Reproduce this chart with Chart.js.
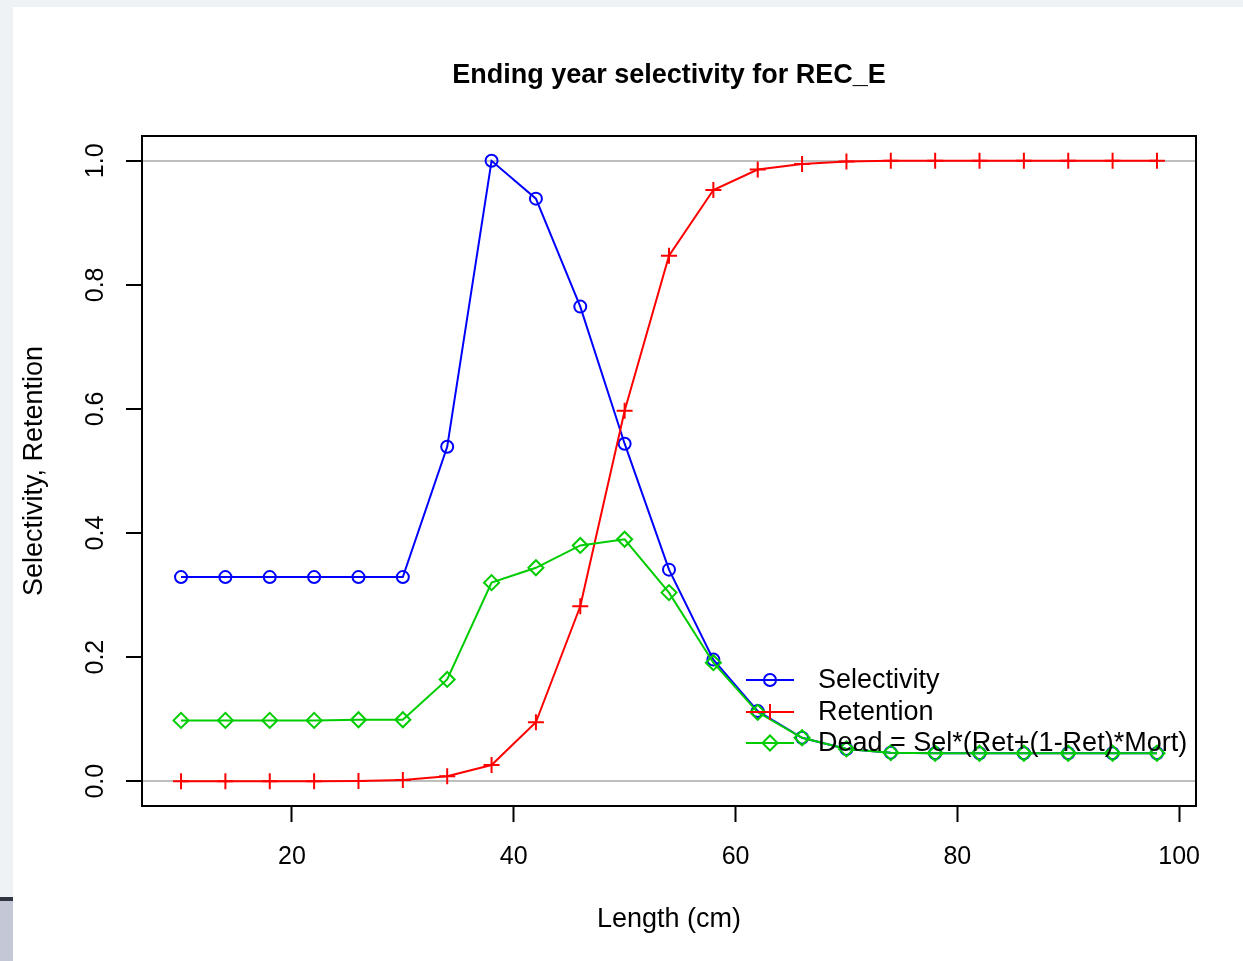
<!DOCTYPE html>
<html>
<head>
<meta charset="utf-8">
<script src="https://cdn.jsdelivr.net/npm/chart.js@4/dist/chart.umd.min.js"></script>
<style>
  html, body { margin: 0; padding: 0; }
  body { width: 1243px; height: 961px; background: #eef2f5; position: relative; overflow: hidden; }
  #paper { position: absolute; left: 13px; top: 7px; right: 0; bottom: 0; background: #ffffff; }
  #edge1 { position: absolute; left: 0; top: 897px; width: 13px; height: 4px; background: #2f3440; }
  #edge2 { position: absolute; left: 0; top: 901px; width: 13px; height: 60px; background: #c3c7d6; }
  #c { position: absolute; left: 0; top: 0; }
</style>
</head>
<body>
<div id="paper"></div>
<div id="edge1"></div>
<div id="edge2"></div>
<canvas id="c" width="1243" height="961"></canvas>
<script>
// ---- data ----
const lengths = [10, 14, 18, 22, 26, 30, 34, 38, 42, 46, 50, 54, 58, 62, 66, 70, 74, 78, 82, 86, 90, 94, 98];
const selectivity = [0.329, 0.329, 0.329, 0.329, 0.329, 0.329, 0.539, 1.0, 0.939, 0.765, 0.544, 0.341, 0.196, 0.113, 0.070, 0.052, 0.046, 0.045, 0.045, 0.045, 0.045, 0.045, 0.045];
const retention = [0.0, 0.0, 0.0, 0.0, 0.0005, 0.002, 0.008, 0.026, 0.095, 0.282, 0.597, 0.847, 0.953, 0.986, 0.995, 0.999, 1.0, 1.0, 1.0, 1.0, 1.0, 1.0, 1.0];
const dead = [0.098, 0.098, 0.098, 0.098, 0.099, 0.099, 0.164, 0.320, 0.344, 0.380, 0.390, 0.304, 0.191, 0.111, 0.070, 0.052, 0.046, 0.045, 0.045, 0.045, 0.045, 0.045, 0.045];
const xTicks = [20, 40, 60, 80, 100];
const yTicks = [0.0, 0.2, 0.4, 0.6, 0.8, 1.0];
const seriesNames = ['Selectivity', 'Retention', 'Dead = Sel*(Ret+(1-Ret)*Mort)'];
const titleText = 'Ending year selectivity for REC_E';
const xTitle = 'Length (cm)';
const yTitle = 'Selectivity, Retention';

const FONT = '"Liberation Sans", Arial, Helvetica, sans-serif';
const BLUE = '#0000ff', RED = '#ff0000', GREEN = '#00cd00';

function pts(vals) { return lengths.map((x, i) => ({ x: x, y: vals[i] })); }

const xMin = 10 - 0.04 * 88, xMax = 98 + 0.04 * 88;
const yMin = -0.04, yMax = 1.04;

const frameAndLabels = {
  id: 'frameAndLabels',
  afterLayout(chart) {
    // centre the main title over the plotting region, as R does
    const t = chart.titleBlock;
    if (t) {
      t.left = chart.chartArea.left;
      t.right = chart.chartArea.right;
      t.width = t.right - t.left;
    }
  },
  afterDatasetsDraw(chart) {
    const ctx = chart.ctx;
    const a = chart.chartArea;
    ctx.save();
    ctx.strokeStyle = '#000';
    ctx.lineWidth = 2;
    ctx.strokeRect(a.left, a.top, a.right - a.left, a.bottom - a.top);
    // y tick labels, rotated like R
    const ys = chart.scales.y;
    ctx.fillStyle = '#000';
    ctx.font = '25px ' + FONT;
    ctx.textAlign = 'center';
    ctx.textBaseline = 'middle';
    yTicks.forEach(v => {
      const py = ys.getPixelForValue(v);
      ctx.save();
      ctx.translate(96, py);
      ctx.rotate(-Math.PI / 2);
      ctx.fillText(v.toFixed(1), 0, 0);
      ctx.restore();
    });
    // legend (no box)
    const rows = [680, 712, 743];
    ctx.font = '27px ' + FONT;
    ctx.textAlign = 'left';
    chart.data.datasets.forEach((ds, i) => {
      const y = rows[i];
      ctx.strokeStyle = ds.borderColor;
      ctx.lineWidth = 2;
      ctx.beginPath();
      ctx.moveTo(746, y);
      ctx.lineTo(794, y);
      ctx.stroke();
      ctx.fillStyle = 'rgba(0,0,0,0)';
      ctx.strokeStyle = ds.borderColor;
      ctx.lineWidth = ds.pointBorderWidth;
      Chart.helpers.drawPoint(ctx, {
        pointStyle: ds.pointStyle,
        radius: ds.pointRadius,
        borderWidth: ds.pointBorderWidth,
        rotation: 0
      }, 770, y);
      ctx.fillStyle = '#000';
      ctx.fillText(ds.label, 818, y + 1);
    });
    ctx.restore();
  }
};

new Chart(document.getElementById('c'), {
  type: 'scatter',
  data: {
    datasets: [
      { label: seriesNames[0], data: pts(selectivity), showLine: true, borderColor: BLUE, borderWidth: 2,
        pointStyle: 'circle', pointRadius: 6, pointBorderWidth: 2, pointBorderColor: BLUE,
        pointBackgroundColor: 'rgba(0,0,0,0)', tension: 0, order: 3 },
      { label: seriesNames[1], data: pts(retention), showLine: true, borderColor: RED, borderWidth: 2,
        pointStyle: 'cross', pointRadius: 8, pointBorderWidth: 2, pointBorderColor: RED,
        pointBackgroundColor: 'rgba(0,0,0,0)', tension: 0, order: 2 },
      { label: seriesNames[2], data: pts(dead), showLine: true, borderColor: GREEN, borderWidth: 2,
        pointStyle: 'rectRot', pointRadius: 7.5, pointBorderWidth: 2, pointBorderColor: GREEN,
        pointBackgroundColor: 'rgba(0,0,0,0)', tension: 0, order: 1 }
    ]
  },
  options: {
    responsive: false,
    animation: false,
    devicePixelRatio: 1,
    layout: { padding: { left: 0, right: 47, top: 0, bottom: 0 } },
    plugins: {
      legend: { display: false },
      tooltip: { enabled: false },
      title: {
        display: true, text: titleText, color: '#000',
        font: { family: FONT, size: 27, weight: 'bold', lineHeight: 1.2 },
        padding: { top: 59.3, bottom: 44.3 }
      }
    },
    scales: {
      x: {
        type: 'linear', min: xMin, max: xMax,
        afterFit(s) { s.height = 155; },
        afterBuildTicks(s) { s.ticks = xTicks.map(v => ({ value: v })); },
        ticks: { color: '#000', font: { family: FONT, size: 25, lineHeight: 1.2 }, padding: 20,
                 maxRotation: 0, minRotation: 0, callback: v => String(v) },
        grid: { display: true, drawOnChartArea: false, drawTicks: true, tickLength: 16,
                tickColor: '#000', tickWidth: 2, color: '#000' },
        border: { display: true, color: '#000', width: 2 },
        title: { display: true, text: xTitle, color: '#000',
                 font: { family: FONT, size: 27, lineHeight: 1.2 }, padding: { top: 0, bottom: 24.8 } }
      },
      y: {
        type: 'linear', min: yMin, max: yMax,
        afterFit(s) { s.width = 142; },
        afterBuildTicks(s) { s.ticks = yTicks.map(v => ({ value: v })); },
        ticks: { display: false },
        grid: { display: true, drawOnChartArea: true, drawTicks: true, tickLength: 16,
                tickColor: '#000', tickWidth: 2, lineWidth: 2,
                color: c => (c.tick && (Math.abs(c.tick.value) < 1e-9 || Math.abs(c.tick.value - 1) < 1e-9)) ? '#bebebe' : 'rgba(0,0,0,0)' },
        border: { display: true, color: '#000', width: 2 },
        title: { display: true, text: yTitle, color: '#000',
                 font: { family: FONT, size: 27, lineHeight: 1.2 }, padding: { top: 18.8, bottom: 0 } }
      }
    }
  },
  plugins: [frameAndLabels]
});
</script>
</body>
</html>
